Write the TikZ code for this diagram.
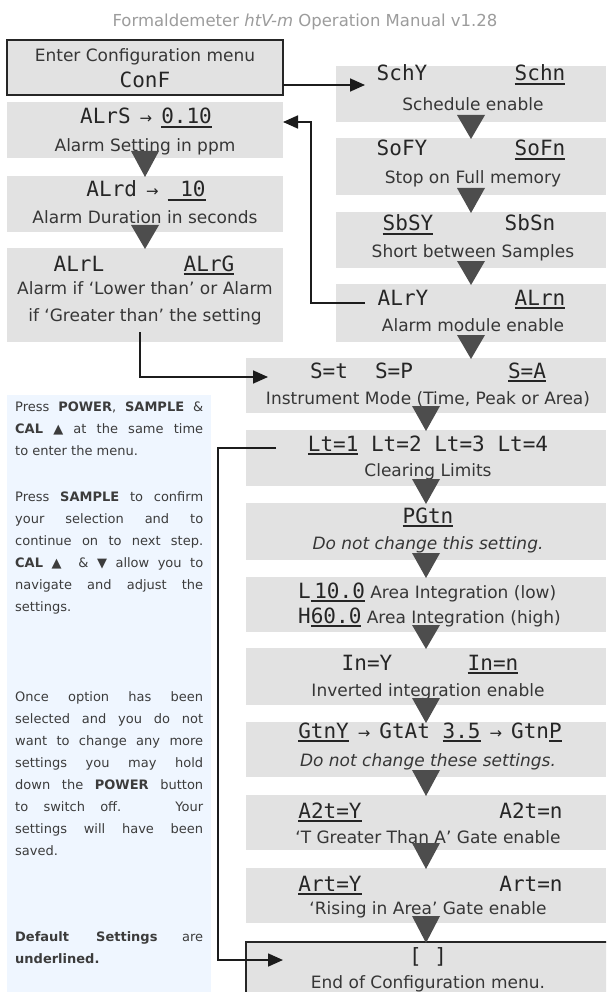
\documentclass[tikz,border=0pt]{standalone}
\usepackage{fontspec}
\setmainfont{DejaVu Sans}
\newfontfamily\segfont{DejaVu Sans Mono}
\usetikzlibrary{arrows.meta,calc}
\tolerance=10000
\hbadness=10000
\definecolor{boxgray}{HTML}{E2E2E2}
\definecolor{panelblue}{HTML}{EFF6FF}
\definecolor{trigray}{HTML}{4D4D4D}
\definecolor{txtgray}{HTML}{363636}
\definecolor{segcol}{HTML}{262626}
\definecolor{paneltxt}{HTML}{3C3C3C}
\definecolor{headgray}{HTML}{9C9C9C}
\definecolor{conncol}{HTML}{1C1C1C}
\newcommand\ulseg[1]{\setbox0\hbox{#1}\rlap{\rule[-4pt]{\wd0}{1.8pt}}\box0\relax}
\newcommand\segarrow{\hspace{9pt}{\rmfamily\fontsize{15}{15}\selectfont →}\hspace{9pt}}
\newcommand\tri[2]{\fill[trigray] ($(#1.south)+(-14,-7)$) -- ($(#1.south)+(14,-7)$) -- ($(#1.south |- #2.north)+(0,1)$) -- cycle;}
\tikzset{
  gbox/.style={fill=boxgray, draw=none, inner sep=0, outer sep=0},
  bbox/.style={fill=boxgray, draw=black!85, line width=1.8pt, inner sep=0, outer sep=0},
  lbl/.style={font=\fontsize{17}{20}\selectfont, text=txtgray, inner sep=0, anchor=base},
  hdr/.style={font=\fontsize{16.5}{20}\selectfont, text=headgray, inner sep=0, anchor=base},
  seg/.style={font=\segfont\fontsize{21}{24}\selectfont, text=segcol, inner sep=0, anchor=base},
  conn/.style={draw=conncol, line width=1.7pt, -{Triangle[length=15pt,width=13pt]}},
  ptext/.style={font=\fontsize{13}{22}\selectfont, text=paneltxt, text width=188pt, align=justify, inner sep=0, anchor=north west},
}
\begin{document}
\begin{tikzpicture}[x=1pt,y=-1pt]
\useasboundingbox (0,0) rectangle (606,992);
\clip (0,0) rectangle (606,992);
\fill[white] (0,0) rectangle (606,992);

% header
\node[hdr] (title) at (305,27) {Formaldemeter {\itshape htV-m} Operation Manual v1.28};

% info panel
\node[fill=panelblue, inner sep=0, minimum width=204pt, minimum height=610pt] (panel) at (109,700) {};
\node[ptext] (p1) at (15,401.5) {Press \textbf{POWER}, \textbf{SAMPLE} \&\linebreak \textbf{CAL} ▲ at the same time\linebreak to enter the menu.};
\node[ptext] (p2) at (15,491.5) {Press \textbf{SAMPLE} to confirm\linebreak your selection and to\linebreak continue on to next step.\linebreak \textbf{CAL} ▲ \ \& ▼ allow you to\linebreak navigate and adjust the\linebreak settings.};
\node[ptext] (p3) at (15,691.5) {Once option has been\linebreak selected and you do not\linebreak want to change any more\linebreak settings you may hold\linebreak down the \textbf{POWER} button\linebreak to switch off. \ Your\linebreak settings will have been\linebreak saved.};
\node[ptext] (p4) at (15,931.5) {\textbf{Default Settings} are\linebreak \textbf{underlined.}};

% left column
\node[bbox, minimum width=276pt, minimum height=55pt] (conf) at (145,67.5) {};
\node[gbox, minimum width=276pt, minimum height=56pt] (alrs) at (145,130) {};
\node[gbox, minimum width=276pt, minimum height=56pt] (alrd) at (145,204) {};
\node[gbox, minimum width=276pt, minimum height=94pt] (alrl) at (145,295) {};

% right column
\node[gbox, minimum width=270pt, minimum height=56pt] (sch) at (471,94) {};
\node[gbox, minimum width=270pt, minimum height=57pt] (sof) at (471,166.5) {};
\node[gbox, minimum width=270pt, minimum height=56pt] (sbs) at (471,240) {};
\node[gbox, minimum width=270pt, minimum height=58pt] (alr) at (471,313) {};

% wide column
\node[gbox, minimum width=360pt, minimum height=55pt] (inst) at (426,385.5) {};
\node[gbox, minimum width=360pt, minimum height=56pt] (lt) at (426,458) {};
\node[gbox, minimum width=360pt, minimum height=57pt] (pgt) at (426,531.5) {};
\node[gbox, minimum width=360pt, minimum height=55pt] (lh) at (426,604.5) {};
\node[gbox, minimum width=360pt, minimum height=57pt] (inv) at (426,676.5) {};
\node[gbox, minimum width=360pt, minimum height=55pt] (gtn) at (426,749.5) {};
\node[gbox, minimum width=360pt, minimum height=55pt] (a2t) at (426,822.5) {};
\node[gbox, minimum width=360pt, minimum height=55pt] (art) at (426,895.5) {};
\node[bbox, minimum width=366pt, minimum height=60pt] (endb) at (429,972) {};

% texts left
\node[lbl] (t-conf) at (145,62) {Enter Configuration menu};
\node[seg] (c-conf) at (145,88) {ConF};
\node[seg] (c-alrs) at (146,124) {ALrS\segarrow\ulseg{0.10}};
\node[lbl] (t-alrs) at (145,152) {Alarm Setting in ppm};
\node[seg] (c-alrd) at (146,197) {ALrd\segarrow\ulseg{\ 10}};
\node[lbl] (t-alrd) at (145,223) {Alarm Duration in seconds};
\node[seg] (c-alrl1) at (79,271) {ALrL};
\node[seg] (c-alrl2) at (209,271) {\ulseg{ALrG}};
\node[lbl] (t-alrl1) at (145,294) {Alarm if `Lower than' or Alarm};
\node[lbl] (t-alrl2) at (145,321) {if `Greater than' the setting};

% texts right
\node[seg] (c-sch1) at (402,81) {SchY};
\node[seg] (c-sch2) at (540,81) {\ulseg{Schn}};
\node[lbl] (t-sch) at (473,111) {Schedule enable};
\node[seg] (c-sof1) at (402,156) {SoFY};
\node[seg] (c-sof2) at (540,156) {\ulseg{SoFn}};
\node[lbl] (t-sof) at (473,184) {Stop on Full memory};
\node[seg] (c-sbs1) at (408,231) {\ulseg{SbSY}};
\node[seg] (c-sbs2) at (530,231) {SbSn};
\node[lbl] (t-sbs) at (473,258) {Short between Samples};
\node[seg] (c-alr1) at (403,305) {ALrY};
\node[seg] (c-alr2) at (540,305) {\ulseg{ALrn}};
\node[lbl] (t-alr) at (473,331) {Alarm module enable};

% texts wide
\node[seg] (c-inst1) at (329,378) {S=t};
\node[seg] (c-inst2) at (394,378) {S=P};
\node[seg] (c-inst3) at (527,378) {\ulseg{S=A}};
\node[lbl] (t-inst) at (428,404) {Instrument Mode (Time, Peak or Area)};
\node[seg] (c-lt) at (428,451) {\ulseg{Lt=1} Lt=2 Lt=3 Lt=4};
\node[lbl] (t-lt) at (428,476) {Clearing Limits};
\node[seg] (c-pgt) at (428,523) {\ulseg{PGtn}};
\node[lbl] (t-pgt) at (428,549) {\itshape Do not change this setting.};
\node[lbl, anchor=base west] (t-lh1) at (298,598) {{\segfont\fontsize{21}{24}\selectfont\color{segcol}L\ulseg{\,10.0}} Area Integration (low)};
\node[lbl, anchor=base west] (t-lh2) at (298,623) {{\segfont\fontsize{21}{24}\selectfont\color{segcol}H\ulseg{60.0}} Area Integration (high)};
\node[seg] (c-inv1) at (367,670) {In=Y};
\node[seg] (c-inv2) at (493,670) {\ulseg{In=n}};
\node[lbl] (t-inv) at (428,696) {Inverted integration enable};
\node[seg] (c-gtn) at (430,738) {\ulseg{GtnY}\segarrow GtAt \ulseg{3.5}\segarrow Gtn\ulseg{P}};
\node[lbl] (t-gtn) at (428,766) {\itshape Do not change these settings.};
\node[seg] (c-a2t1) at (330,818) {\ulseg{A2t=Y}};
\node[seg] (c-a2t2) at (531,818) {A2t=n};
\node[lbl] (t-a2t) at (428,843) {`T Greater Than A' Gate enable};
\node[seg] (c-art1) at (330,891) {\ulseg{Art=Y}};
\node[seg] (c-art2) at (531,891) {Art=n};
\node[lbl] (t-art) at (428,914) {`Rising in Area' Gate enable};
\node[seg] (c-end) at (428,963) {[ ]};
\node[lbl] (t-end) at (428,988) {End of Configuration menu.};

% flow triangles
\tri{alrs}{alrd}
\tri{alrd}{alrl}
\tri{sch}{sof}
\tri{sof}{sbs}
\tri{sbs}{alr}
\tri{alr}{inst}
\tri{inst}{lt}
\tri{lt}{pgt}
\tri{pgt}{lh}
\tri{lh}{inv}
\tri{inv}{gtn}
\tri{gtn}{a2t}
\tri{a2t}{art}
\tri{art}{endb}

% connectors
\coordinate (schin) at (365,85);
\draw[conn] (conf.east |- schin) -- (schin);
\coordinate (alrout) at (365,303);
\coordinate (alrsin) at (283,122);
\draw[conn] (alrout) -| (311,122) -- (alrsin);
\coordinate (alrlout) at (140,332);
\coordinate (instin) at (268,377);
\draw[conn] (alrlout) |- (instin);
\coordinate (ltout) at (276,448);
\coordinate (endin) at (283,960);
\draw[conn] (ltout) -- (218,448) |- (endin);
\end{tikzpicture}
\end{document}
